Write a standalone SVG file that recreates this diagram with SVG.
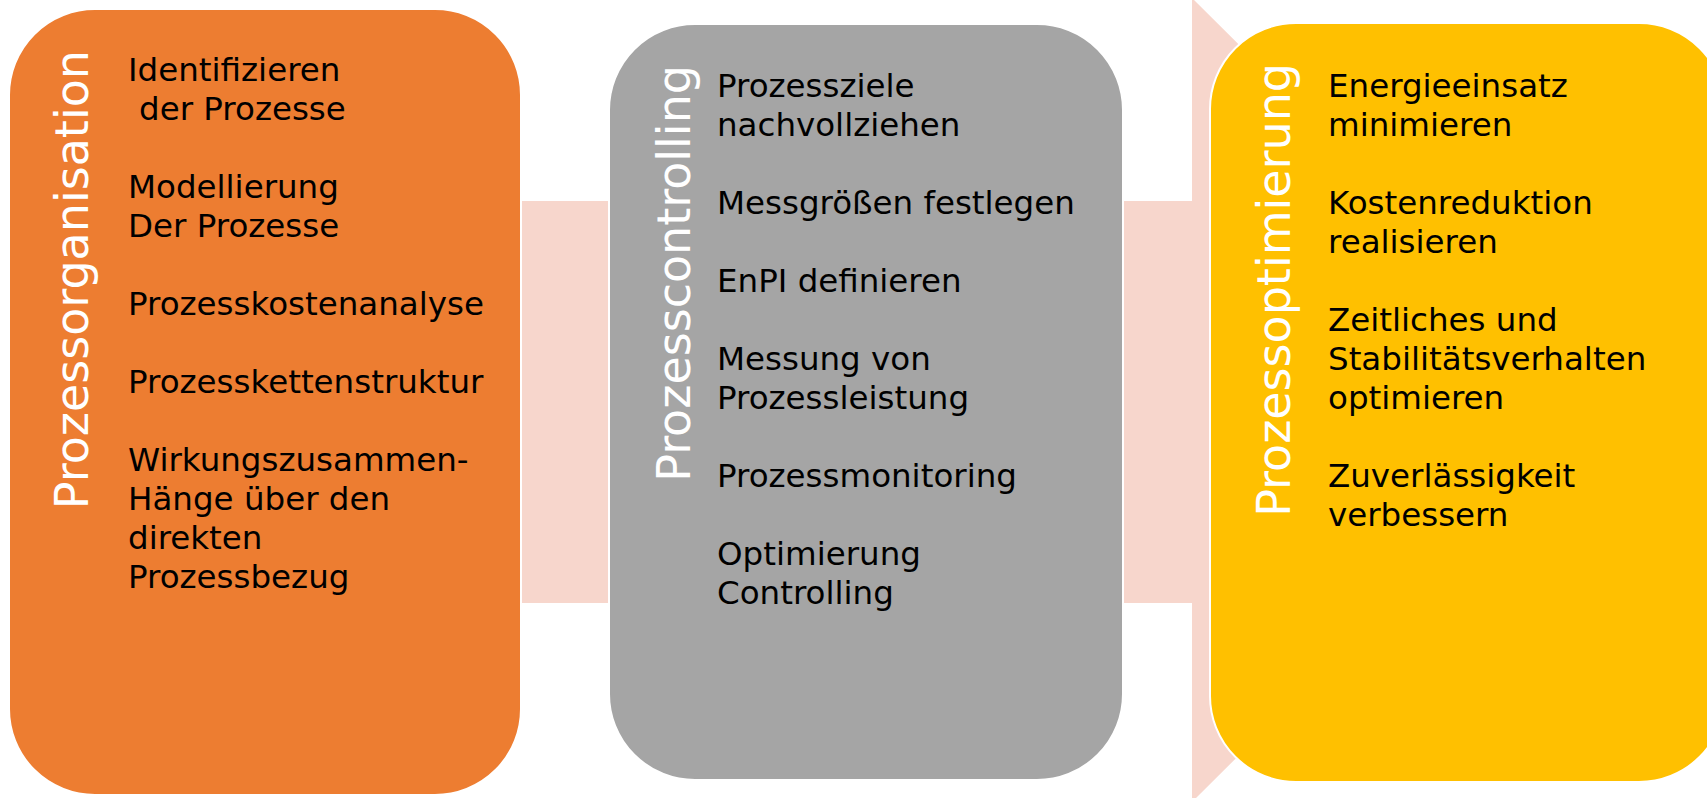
<svg xmlns="http://www.w3.org/2000/svg" width="1707" height="798" viewBox="0 0 1707 798">
<style>
.box{stroke:#FFFFFF;stroke-width:2}
.title{font-family:"DejaVu Sans","Liberation Sans",sans-serif;font-size:46px;fill:#FFFFFF}
.item{font-family:"DejaVu Sans","Liberation Sans",sans-serif;font-size:32.5px;fill:#000000}
</style>
<rect width="1707" height="798" fill="#FFFFFF"/>
<g id="connectors">
<polygon points="490,201 1192,201 1192,-2 1596,400 1192,802 1192,603 490,603" fill="#F7D6CC"/>
</g>
<g id="node-prozessorganisation">
<rect class="box" x="9" y="9" width="512" height="786" rx="86" ry="86" fill="#ED7D31"/>
<text class="title" transform="translate(88,50) rotate(-90)" text-anchor="end">Prozessorganisation</text>
<text class="item" x="128" y="81">Identifizieren</text>
<text class="item" x="139" y="120">der Prozesse</text>
<text class="item" x="128" y="198">Modellierung</text>
<text class="item" x="128" y="237">Der Prozesse</text>
<text class="item" x="128" y="315">Prozesskostenanalyse</text>
<text class="item" x="128" y="393">Prozesskettenstruktur</text>
<text class="item" x="128" y="471">Wirkungszusammen-</text>
<text class="item" x="128" y="510">Hänge über den</text>
<text class="item" x="128" y="549">direkten</text>
<text class="item" x="128" y="588">Prozessbezug</text>
</g>
<g id="node-prozesscontrolling">
<rect class="box" x="609" y="24" width="514" height="756" rx="86" ry="86" fill="#A5A5A5"/>
<text class="title" transform="translate(690,65) rotate(-90)" text-anchor="end">Prozesscontrolling</text>
<text class="item" x="717" y="97">Prozessziele</text>
<text class="item" x="717" y="136">nachvollziehen</text>
<text class="item" x="717" y="214">Messgrößen festlegen</text>
<text class="item" x="717" y="292">EnPI definieren</text>
<text class="item" x="717" y="370">Messung von</text>
<text class="item" x="717" y="409">Prozessleistung</text>
<text class="item" x="717" y="487">Prozessmonitoring</text>
<text class="item" x="717" y="565">Optimierung</text>
<text class="item" x="717" y="604">Controlling</text>
</g>
<g id="node-prozessoptimierung">
<rect class="box" x="1210" y="23" width="515" height="759" rx="86" ry="86" fill="#FFC000"/>
<text class="title" transform="translate(1290,63) rotate(-90)" text-anchor="end">Prozessoptimierung</text>
<text class="item" x="1328" y="97">Energieeinsatz</text>
<text class="item" x="1328" y="136">minimieren</text>
<text class="item" x="1328" y="214">Kostenreduktion</text>
<text class="item" x="1328" y="253">realisieren</text>
<text class="item" x="1328" y="331">Zeitliches und</text>
<text class="item" x="1328" y="370">Stabilitätsverhalten</text>
<text class="item" x="1328" y="409">optimieren</text>
<text class="item" x="1328" y="487">Zuverlässigkeit</text>
<text class="item" x="1328" y="526">verbessern</text>
</g>
</svg>
